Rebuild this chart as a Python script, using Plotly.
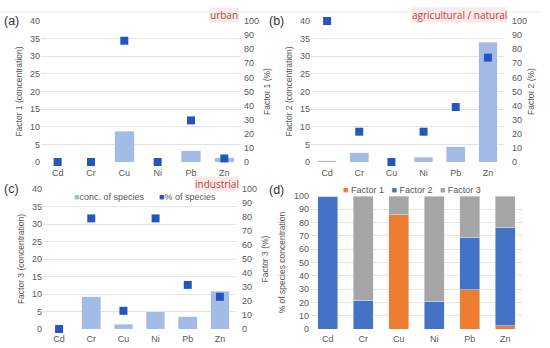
import plotly.graph_objects as go

elements = ["Cd", "Cr", "Cu", "Ni", "Pb", "Zn"]

f1_conc = [0, 0, 8.7, 0, 3.2, 1.2]
f1_pct = [0, 0, 86, 0, 29.5, 2.5]
f2_conc = [0.3, 2.6, 0, 1.3, 4.3, 34]
f2_pct = [100, 21.5, 0, 21.5, 39, 74]
f3_conc = [0, 9.2, 1.4, 5, 3.5, 10.8]
f3_pct = [0, 79, 13, 79, 31.5, 23]

d_factor1 = [0, 0, 86, 0, 29.5, 2.5]
d_factor2 = [100, 21.5, 0, 21, 39, 74]
d_factor3 = [0, 78.5, 14, 79, 31.5, 23.5]

BAR_LIGHT = "#A2BCE6"
SQ_DARK = "#2457BE"
C_F1 = "#ED7D31"
C_F2 = "#4472C4"
C_F3 = "#A5A5A5"
TICK = "#595959"
GRID = "#E3E3E3"
FONT = "Liberation Sans"

W, H = 550, 348
def px(x): return x / W
def py(y): return 1 - y / H

fig = go.Figure()

panels = [
    (f1_conc, f1_pct, "x", "y", "y2"),
    (f2_conc, f2_pct, "x2", "y3", "y4"),
    (f3_conc, f3_pct, "x3", "y5", "y6"),
]
for conc, pct, xa, ya, ya2 in panels:
    fig.add_trace(go.Bar(x=elements, y=conc, xaxis=xa, yaxis=ya,
                         marker_color=BAR_LIGHT, width=0.58,
                         name="conc. of species", showlegend=False))
    fig.add_trace(go.Scatter(x=elements, y=pct, xaxis=xa, yaxis=ya2,
                             mode="markers", cliponaxis=False,
                             marker=dict(symbol="square", size=8, color=SQ_DARK),
                             name="% of species", showlegend=False))

for vals, nm, col in [(d_factor1, "Factor 1", C_F1), (d_factor2, "Factor 2", C_F2),
                      (d_factor3, "Factor 3", C_F3)]:
    fig.add_trace(go.Bar(x=elements, y=vals, xaxis="x4", yaxis="y7",
                         marker_color=col, width=0.57, name=nm, showlegend=False))

tickfont = dict(family=FONT, size=9, color=TICK)
titlefont = dict(family=FONT, size=8.5, color=TICK)

def xaxis(dom, anchor, standoff):
    return dict(domain=dom, anchor=anchor, tickfont=tickfont, showgrid=False,
                showline=False, ticks="", zeroline=False, ticklabelstandoff=standoff)

def yleft(dom, anchor, title, rng, dtick):
    return dict(domain=dom, anchor=anchor, range=rng, dtick=dtick, tickfont=tickfont,
                showgrid=True, gridcolor=GRID, gridwidth=1, zeroline=False,
                title=dict(text=title, font=titlefont, standoff=6), ticks="",
                showline=False)

def yright(overlay, anchor, title, standoff, tstand):
    return dict(overlaying=overlay, anchor=anchor, side="right", range=[0, 100],
                dtick=10, tickfont=tickfont, showgrid=False, zeroline=False,
                title=dict(text=title, font=titlefont, standoff=tstand), ticks="",
                showline=False, ticklabelstandoff=standoff)

ya_dom = [py(162), py(21)]
yc_dom = [py(329), py(189)]
yd_dom = [py(329), py(196)]

fig.update_layout(
    width=W, height=H,
    margin=dict(l=0, r=0, t=0, b=0, autoexpand=False),
    paper_bgcolor="white", plot_bgcolor="white",
    barmode="stack",
    showlegend=False,
    font=dict(family=FONT, color=TICK),
    xaxis=xaxis([px(41), px(241)], "y", 4),
    yaxis=yleft(ya_dom, "x", "Factor 1 (concentration)", [0, 40], 5),
    yaxis2=yright("y", "x", "Factor 1 (%)", 2, 6),
    xaxis2=xaxis([px(311), px(504)], "y3", 4),
    yaxis3=yleft(ya_dom, "x2", "Factor 2 (concentration)", [0, 40], 5),
    yaxis4=yright("y3", "x2", "Factor 2 (%)", 7, 2),
    xaxis3=xaxis([px(43), px(236)], "y5", 3),
    yaxis5=yleft(yc_dom, "x3", "Factor 3 (concentration)", [0, 40], 5),
    yaxis6=yright("y5", "x3", "Factor 3 (%)", 5, 6),
    xaxis4=xaxis([px(310), px(523)], "y7", 3),
    yaxis7=yleft(yd_dom, "x4", "% of species concentration", [0, 100], 10),
    bargap=0.4,
)

# legends as compact text rows
leg_font = dict(family=FONT, size=9, color=TICK)
legend_c = (f"<span style='color:{BAR_LIGHT}'>■</span>conc. of species"
            f"      <span style='color:{SQ_DARK}'>■</span>% of species")
fig.add_annotation(text=legend_c, x=px(145), y=py(197), xref="paper", yref="paper",
                   xanchor="center", yanchor="middle", showarrow=False, font=leg_font)
legend_d = (f"<span style='color:{C_F1}'>■</span> Factor 1"
            f"   <span style='color:{C_F2}'>■</span> Factor 2"
            f"   <span style='color:{C_F3}'>■</span> Factor 3")
fig.add_annotation(text=legend_d, x=px(412), y=py(190), xref="paper", yref="paper",
                   xanchor="center", yanchor="middle", showarrow=False, font=leg_font)

label_font = dict(family=FONT, size=12.5, color="#333333")
for txt, x, y in [("(a)", 2, 21), ("(b)", 267, 21), ("(c)", 2, 189), ("(d)", 267, 190)]:
    fig.add_annotation(text=txt, x=px(x), y=py(y), xref="paper", yref="paper",
                       xanchor="left", yanchor="middle", showarrow=False, font=label_font)

for txt, x, y, col in [("urban", 239, 15, "#8B5A2B"),
                       ("agricultural / natural", 508, 15, "#B0483F"),
                       ("industrial", 240, 184, "#B0483F")]:
    fig.add_annotation(text=txt, x=px(x), y=py(y), xref="paper", yref="paper",
                       xanchor="right", yanchor="middle", showarrow=False,
                       font=dict(family="Open Sans", size=10, color=col),
                       bgcolor="#FCE8EA", borderpad=0)

fig.add_shape(type="line", xref="paper", yref="paper", x0=0, x1=px(540), y0=py(12), y1=py(12),
              line=dict(color="#E6E6E6", width=1))

fig.write_html("out.html", config={"displayModeBar": False},
               post_script="document.body.style.margin='0';")
